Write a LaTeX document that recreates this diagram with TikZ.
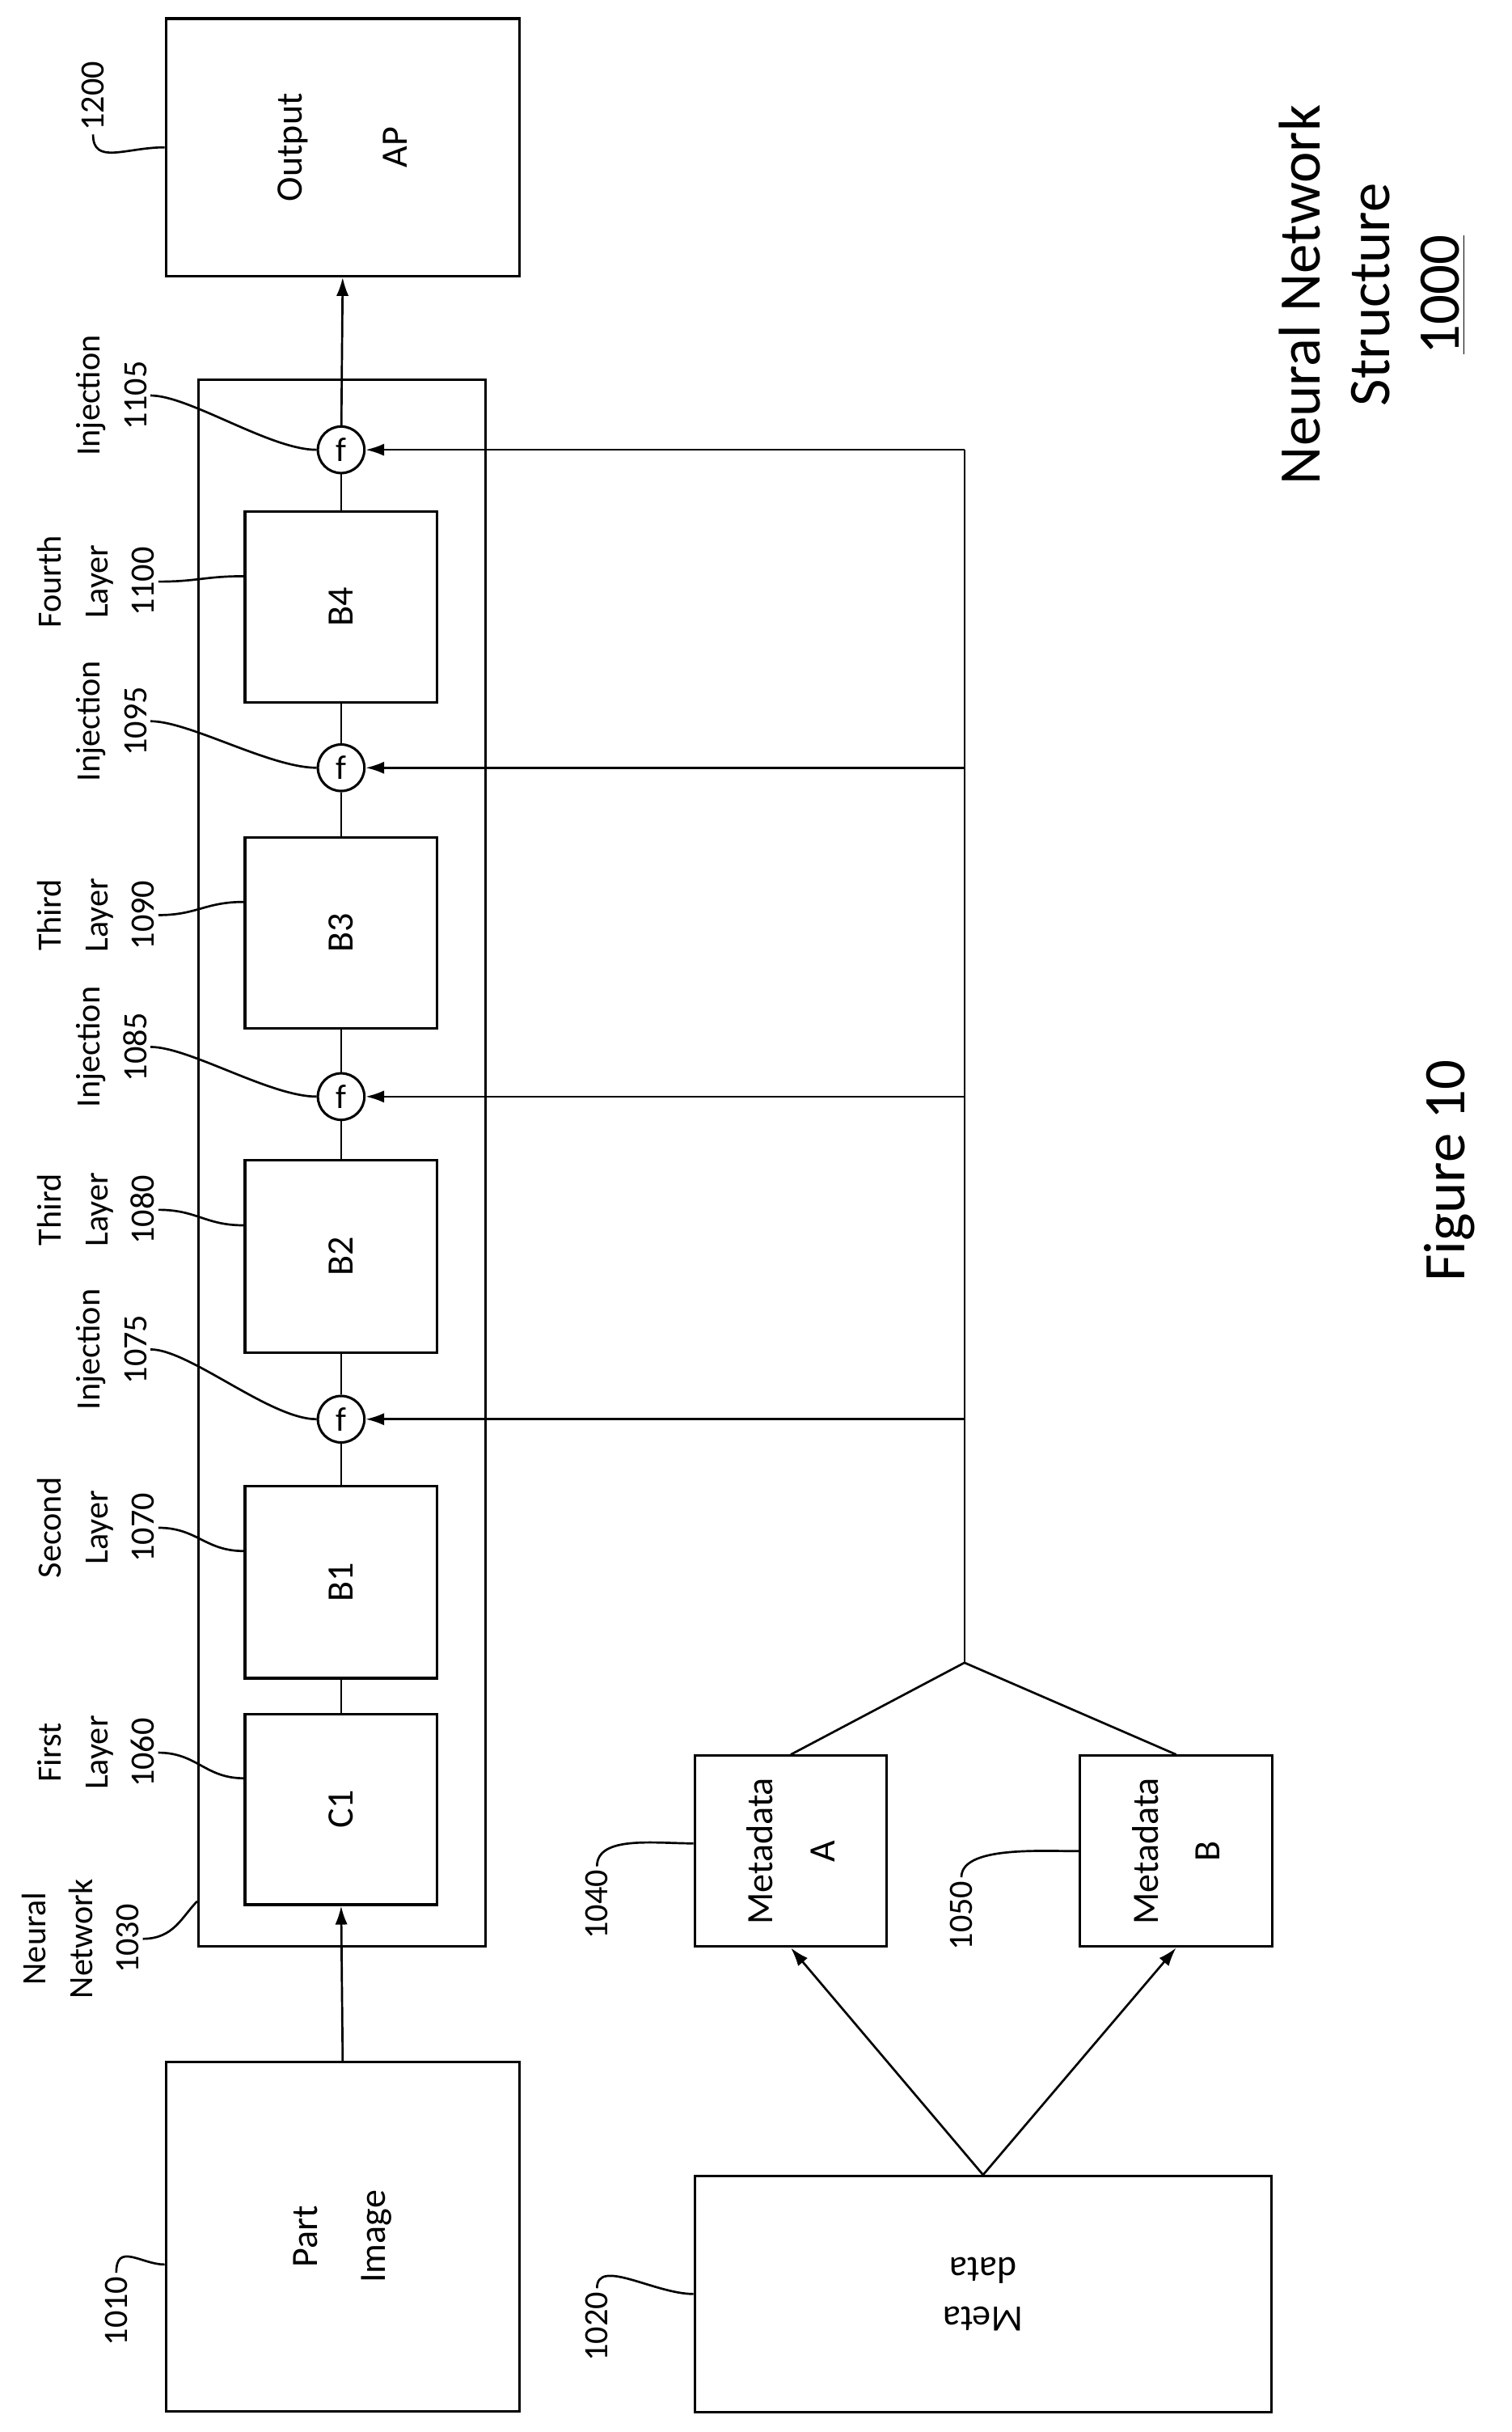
\documentclass[tikz,border=0pt]{standalone}
\usepackage{fontspec}
\setmainfont{Carlito}
\usetikzlibrary{arrows.meta,calc}

\tikzset{
  box/.style={draw, line width=0.8pt, rotate=90, align=center, font=\fontsize{12}{14}\selectfont},
  inj/.style={draw, circle, line width=0.8pt, minimum size=15pt, inner sep=0pt, font=\fontsize{11}{13}\selectfont},
  lab/.style={rotate=90, align=center, inner sep=1pt, font=\fontsize{11}{15}\selectfont},
  lead/.style={line width=0.7pt},
  arr/.style={line width=0.7pt, -{Latex[length=6pt,width=4pt]}},
}

\begin{document}
\begin{tikzpicture}[x=0.5pt,y=0.5pt,yscale=-1]
		\useasboundingbox (0,0) rectangle (975,1568);

		% main boxes
		\node[box, minimum width=83pt, minimum height=114pt] (out) at (221,95) {Output\\[20pt]AP};
		\node[box, minimum width=112.5pt, minimum height=114pt] (part) at (221,1442) {Part\\[8pt]Image};
		\node[box, minimum width=505pt, minimum height=92.5pt] (nn) at (220.5,750) {};

		% layers inside the network
		\node[box, minimum width=61.5pt, minimum height=62pt] (c1) at (220,1166.5) {C1};
		\node[box, minimum width=62pt, minimum height=62pt] (b1) at (220,1020) {B1};
		\node[box, minimum width=62pt, minimum height=62pt] (b2) at (220,810) {B2};
		\node[box, minimum width=61.5pt, minimum height=62pt] (b3) at (220,601.5) {B3};
		\node[box, minimum width=61.5pt, minimum height=62pt] (b4) at (220,391.5) {B4};

		% injection points
		\node[inj] (f1) at (220,915) {f};
		\node[inj] (f2) at (220,707) {f};
		\node[inj] (f3) at (220,495) {f};
		\node[inj] (f4) at (220,290) {f};

		% metadata boxes
		\node[box, minimum width=61.5pt, minimum height=62pt] (ma) at (510,1193.5) {Metadata\\[6pt]A};
		\node[box, minimum width=61.5pt, minimum height=62pt] (mb) at (758.5,1193.5) {Metadata\\[6pt]B};
		\node[box, rotate=90, minimum width=186pt, minimum height=76pt] (meta) at (634,1479) {Meta\\[2pt]data};

		% signal chain
		\draw[arr] (part.east) -- (c1.west);
		\draw[line width=0.7pt] (c1.east) -- (b1.west);
		\draw[line width=0.7pt] (b1.east) -- (f1) -- (b2.west);
		\draw[line width=0.7pt] (b2.east) -- (f2) -- (b3.west);
		\draw[line width=0.7pt] (b3.east) -- (f3) -- (b4.west);
		\draw[line width=0.7pt] (b4.east) -- (f4);
		\draw[arr] (f4) -- (out.west);

		% metadata feed
		\coordinate (j) at (622,1072);
		\coordinate (t1) at (622,915);
		\coordinate (t2) at (622,707);
		\coordinate (t3) at (622,495);
		\coordinate (t4) at (622,290);
		\draw[line width=0.7pt] (ma.east) -- (j) -- (mb.east);
		\draw[line width=0.7pt] (j) -- (t4);
		\draw[arr] (t1) -- (f1);
		\draw[arr] (t2) -- (f2);
		\draw[arr] (t3) -- (f3);
		\draw[arr] (t4) -- (f4);
		\draw[arr] (meta.south) -- (ma.west);
		\draw[arr] (meta.south) -- (mb.west);

		% reference labels
		\node[lab] (l1200) at (60,62) {1200};
		\node[lab] (l1010) at (75,1490) {1010};
		\node[lab] (l1020) at (385,1500) {1020};
		\node[lab] (l1040) at (385,1228) {1040};
		\node[lab] (l1050) at (620,1235) {1050};
		\node[lab] (l1030) at (52,1250) {Neural\\Network\\1030};
		\node[lab] (l1060) at (62,1130) {First\\Layer\\1060};
		\node[lab] (l1070) at (62,985) {Second\\Layer\\1070};
		\node[lab] (l1075) at (72,870) {Injection\\1075};
		\node[lab] (l1080) at (62,780) {Third\\Layer\\1080};
		\node[lab] (l1085) at (72,675) {Injection\\1085};
		\node[lab] (l1090) at (62,590) {Third\\Layer\\1090};
		\node[lab] (l1095) at (72,465) {Injection\\1095};
		\node[lab] (l1100) at (62,375) {Fourth\\Layer\\1100};
		\node[lab] (l1105) at (72,255) {Injection\\1105};

		% leaders
		\draw[lead] (l1200.west) .. controls +(0,20) and +(-25,0) .. (out.north);
		\draw[lead] (l1010.east) .. controls +(0,-20) and +(-15,0) .. ($(part.north)+(0,18)$);
		\draw[lead] (l1020.east) .. controls +(0,-20) and +(-25,0) .. (meta.east);
		\draw[lead] (l1040.east) .. controls +(0,-20) and +(-25,0) .. ($(ma.north)+(0,-5)$);
		\draw[lead] (l1050.east) .. controls +(0,-20) and +(-25,0) .. ($(mb.north)+(0,0)$);
		\draw[lead] (l1030.south) .. controls +(20,0) and +(-10,10) .. ($(nn.north west)+(0,-30)$);
		\draw[lead] (l1060.south) .. controls +(25,0) and +(-25,0) .. ($(c1.north)+(0,-20)$);
		\draw[lead] (l1070.south) .. controls +(25,0) and +(-25,0) .. ($(b1.north)+(0,-20)$);
		\draw[lead] (l1075.south) .. controls +(25,0) and +(-30,0) .. (f1.west);
		\draw[lead] (l1080.south) .. controls +(25,0) and +(-25,0) .. ($(b2.north)+(0,-20)$);
		\draw[lead] (l1085.south) .. controls +(25,0) and +(-30,0) .. (f2.west);
		\draw[lead] (l1090.south) .. controls +(25,0) and +(-25,0) .. ($(b3.north)+(0,-20)$);
		\draw[lead] (l1095.south) .. controls +(25,0) and +(-30,0) .. (f3.west);
		\draw[lead] (l1100.south) .. controls +(25,0) and +(-25,0) .. ($(b4.north)+(0,-20)$);
		\draw[lead] (l1105.south) .. controls +(25,0) and +(-30,0) .. (f4.west);

		% title
		\node[rotate=90, align=center, font=\fontsize{19}{22.5}\selectfont] (title) at (885,190) {Neural Network\\Structure\\\underline{1000}};
		\node[rotate=90, font=\fontsize{19}{22}\selectfont] (fig) at (935,755) {Figure 10};
	\end{tikzpicture}
\end{document}
